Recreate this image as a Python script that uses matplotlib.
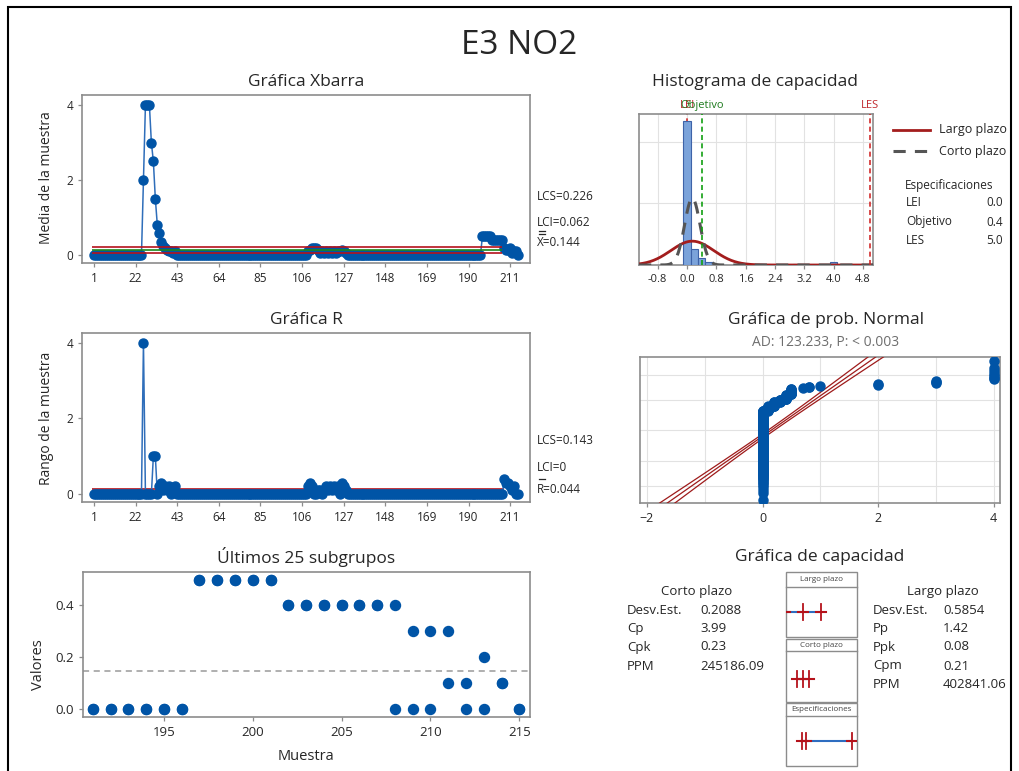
import numpy as np
import matplotlib
matplotlib.use('Agg')
import matplotlib.pyplot as plt
from matplotlib.patches import Rectangle
from matplotlib.lines import Line2D
from statistics import NormalDist

plt.rcParams['font.family'] = ['Open Sans', 'DejaVu Sans']

W, H = 1019, 771

# ---------- DATA ----------
n_subgroups = 215

# subgroups with a non-zero reading; every other subgroup is (0, 0)
nz_subgroups = [26, 27, 28, 29, 30, 31, 32, 33, 34, 35, 36, 37, 38, 39, 40, 41, 42,
                109, 110, 111, 112, 113, 114, 115, 116, 117, 118, 119, 120,
                121, 122, 123, 124, 125, 126, 127, 128,
                197, 198, 199, 200, 201, 202, 203, 204, 205, 206, 207,
                208, 209, 210, 211, 212, 213, 214]
reading_1 = [0, 4, 4, 4, 3, 2, 1, 0.8, 0.7, 0.5, 0.3, 0.3, 0.2, 0.2, 0.1, 0.1, 0.2,
             0.2, 0.3, 0.3, 0.2, 0.2, 0.2, 0.1, 0.1, 0.1, 0.2, 0.1, 0.2,
             0.1, 0.2, 0.1, 0.2, 0.1, 0.3, 0.2, 0.1,
             0.5, 0.5, 0.5, 0.5, 0.5, 0.4, 0.4, 0.4, 0.4, 0.4, 0.4,
             0.4, 0.3, 0.3, 0.3, 0.1, 0.2, 0.1]
reading_2 = [4, 4, 4, 4, 3, 3, 2, 0.8, 0.5, 0.2, 0.2, 0.1, 0.1, 0, 0.1, 0, 0,
             0, 0, 0.1, 0.2, 0.2, 0.1, 0, 0.1, 0, 0, 0, 0,
             0, 0, 0, 0, 0.1, 0, 0, 0,
             0.5, 0.5, 0.5, 0.5, 0.5, 0.4, 0.4, 0.4, 0.4, 0.4, 0.4,
             0, 0, 0, 0.1, 0, 0, 0.1]

xbar_lcs, xbar_center, xbar_lci = 0.226, 0.144, 0.062
r_lcs, r_center, r_lci = 0.143, 0.044, 0.0

# capability histogram (bin centres / counts)
hist_centers = [0.0, 0.2, 0.4, 0.6, 1.0, 2.0, 3.0, 4.0]
hist_counts = [350, 38, 16, 8, 1, 2, 3, 7]
bin_width = 0.2

lei, target, les = 0.0, 0.4, 5.0
sd_short, sd_long = 0.2088, 0.5854
ad_value, p_text = 123.233, '< 0.003'

short_labels = ['Desv.Est.', 'Cp', 'Cpk', 'PPM']
short_values = ['0.2088', '3.99', '0.23', '245186.09']
long_labels = ['Desv.Est.', 'Pp', 'Ppk', 'Cpm', 'PPM']
long_values = ['0.5854', '1.42', '0.08', '0.21', '402841.06']

# ---------- STYLE ----------
PT_BLUE = '#0054A6'
LN_BLUE = '#2F6EBA'
RED = '#B5121B'
GREEN = '#1A8A1A'
DARKRED = '#A31D1D'
SPINE = '#8C8C8C'
TXT = '#262626'
GRID = '#E2E2E2'

fig = plt.figure(figsize=(W / 100, H / 100), dpi=100)


def px_axes(x0, y0, x1, y1):
    return fig.add_axes([x0 / W, 1 - y1 / H, (x1 - x0) / W, (y1 - y0) / H])


def ftext(x, y, s, **kw):
    kw.setdefault('color', TXT)
    kw.setdefault('va', 'center')
    return fig.text(x / W, 1 - y / H, s, **kw)


def style(ax, size):
    for sp in ax.spines.values():
        sp.set_color(SPINE)
        sp.set_linewidth(1.2)
    ax.tick_params(colors=SPINE, labelcolor=TXT, labelsize=size, length=3, width=0.9)


fig.add_artist(Rectangle((7.5 / W, -0.05), (1011 - 7.5) / W, 1.05 - 7.5 / H,
                         transform=fig.transFigure, fill=False, ec='black', lw=1.5))

ftext(519, 45, 'E3 NO2', ha='center', fontsize=24)

# subgroup readings
subs = np.arange(1, n_subgroups + 1)
r1 = np.zeros(n_subgroups)
r2 = np.zeros(n_subgroups)
r1[np.array(nz_subgroups) - 1] = reading_1
r2[np.array(nz_subgroups) - 1] = reading_2
means = (r1 + r2) / 2
ranges = np.abs(r1 - r2)
xticks_sub = [1, 22, 43, 64, 85, 106, 127, 148, 169, 190, 211]

# ---------- Xbar chart ----------
ax = px_axes(82, 95, 530, 263)
ax.plot(subs, means, color=LN_BLUE, lw=1.1, zorder=3)
ax.plot(subs, means, 'o', ms=6.5, color=PT_BLUE, zorder=4)
ax.hlines([xbar_lcs, xbar_lci], 0, 207, color=RED, lw=1.2, zorder=5)
ax.hlines(xbar_center, 0, 207, color=GREEN, lw=1.2, zorder=5)
ax.set_xlim(-5, 221)
ax.set_ylim(-0.21, 4.27)
ax.set_xticks(xticks_sub)
ax.set_yticks([0, 2, 4])
style(ax, 8.5)
ftext(306, 82, 'Gráfica Xbarra', ha='center', fontsize=12.5)
ftext(47, 178, 'Media de la muestra', ha='center', rotation=90, fontsize=10)
ftext(537, 197, f'LCS={xbar_lcs}', fontsize=8.5)
ftext(537, 222, f'LCI={xbar_lci}', fontsize=8.5)
ftext(537, 243, f'X={xbar_center}', fontsize=8.5)
for yy in (230.5, 233.5):
    fig.add_artist(Line2D([538.5 / W, 545 / W], [1 - yy / H] * 2, color=TXT, lw=0.9))

# ---------- R chart ----------
ax = px_axes(82, 333, 530, 502)
ax.plot(subs, ranges, color=LN_BLUE, lw=1.1, zorder=3)
ax.plot(subs, ranges, 'o', ms=6.5, color=PT_BLUE, zorder=4)
ax.hlines([r_lcs, r_lci], 0, 208, color=RED, lw=1.2, zorder=2)
ax.hlines(r_center, 0, 208, color=GREEN, lw=1.2, zorder=2)
ax.set_xlim(-5, 221)
ax.set_ylim(-0.21, 4.26)
ax.set_xticks(xticks_sub)
ax.set_yticks([0, 2, 4])
style(ax, 8.5)
ftext(306, 320, 'Gráfica R', ha='center', fontsize=12.5)
ftext(47, 418, 'Rango de la muestra', ha='center', rotation=90, fontsize=10)
ftext(537, 441, f'LCS={r_lcs}', fontsize=8.5)
ftext(537, 468, f'LCI={r_lci:g}', fontsize=8.5)
ftext(537, 490, f'R={r_center}', fontsize=8.5)
fig.add_artist(Line2D([538.5 / W, 545 / W], [1 - 479 / H] * 2, color=TXT, lw=0.9))

# ---------- last 25 subgroups ----------
ax = px_axes(83, 572, 530, 717)
last = subs[-25:]
ax.plot(last, r1[-25:], 'o', ms=7.2, color=PT_BLUE, zorder=3)
ax.plot(last, r2[-25:], 'o', ms=7.2, color=PT_BLUE, zorder=3)
ax.axhline(xbar_center, color='#9A9A9A', ls=(0, (4, 3)), lw=1.1, zorder=2)
ax.set_xlim(190.45, 215.6)
ax.set_ylim(-0.033, 0.53)
ax.set_xticks([195, 200, 205, 210, 215])
ax.set_yticks([0, 0.2, 0.4])
ax.set_yticklabels(['0.0', '0.2', '0.4'])
style(ax, 9.5)
ftext(306, 557, 'Últimos 25 subgrupos', ha='center', fontsize=12.5)
ftext(38, 665, 'Valores', ha='center', rotation=90, fontsize=10.5)
ftext(306, 757, 'Muestra', ha='center', fontsize=10.5)

# ---------- capability histogram ----------
ax = px_axes(639, 114, 873, 265)
ax.bar(hist_centers, hist_counts, width=bin_width, color='#7BA3DA', ec='#3E63A8',
       lw=0.8, zorder=3)
xs = np.linspace(-1.31, 5.07, 400)
scale = sum(hist_counts) * bin_width
lt = scale * np.array([NormalDist(xbar_center, sd_long).pdf(v) for v in xs])
st = scale * np.array([NormalDist(xbar_center, sd_short).pdf(v) for v in xs])
ax.plot(xs, lt, color=DARKRED, lw=2, zorder=5)
ax.plot(xs, st, color='#555555', lw=2.2, ls=(0, (4, 3)), zorder=5)
ax.axvline(lei, color='#D22B2B', lw=1.2, ls=(0, (3, 2)), zorder=2)
ax.axvline(target, color='#12A012', lw=1.2, ls=(0, (3, 2)), zorder=6)
ax.axvline(les, color='#D22B2B', lw=1.2, ls=(0, (3, 2)), zorder=6)
tr = ax.get_xaxis_transform()
ax.text(lei, 1.02, 'LEI', color='#C0282D', ha='center', va='bottom', fontsize=8, transform=tr)
ax.text(target, 1.02, 'Objetivo', color='#1E7B1E', ha='center', va='bottom', fontsize=8, transform=tr)
ax.text(les, 1.02, 'LES', color='#C0282D', ha='center', va='bottom', fontsize=8, transform=tr)
ax.set_xlim(-1.31, 5.07)
ax.set_ylim(0, 367)
hx = [-0.8, 0.0, 0.8, 1.6, 2.4, 3.2, 4.0, 4.8]
ax.set_xticks(hx)
ax.set_xticklabels([f'{v:.1f}' for v in hx])
ax.set_yticks([150, 300])
ax.set_yticklabels([])
ax.grid(color=GRID, lw=0.8, zorder=0)
style(ax, 8)
ax.tick_params(axis='y', length=0)
ftext(755, 82, 'Histograma de capacidad', ha='center', fontsize=12.5)

fig.add_artist(Line2D([893 / W, 930 / W], [1 - 130 / H] * 2, color=DARKRED, lw=2))
fig.add_artist(Line2D([893 / W, 930 / W], [1 - 151 / H] * 2, color='#555555', lw=2.2,
                      ls=(0, (4, 3))))
ftext(939, 130, 'Largo plazo', fontsize=9)
ftext(939, 151, 'Corto plazo', fontsize=9)
ftext(905, 185, 'Especificaciones', fontsize=8.5)
for yy, lab, val in [(203, 'LEI', lei), (222, 'Objetivo', target), (241, 'LES', les)]:
    ftext(906, yy, lab, fontsize=8.5)
    ftext(1003, yy, f'{val:.1f}', ha='right', fontsize=8.5)

# ---------- normal probability plot ----------
ax = px_axes(640, 357, 1000, 503)
vals = np.sort(np.concatenate([r1, r2]))
n = len(vals)
nd = NormalDist()
zs = np.array([nd.inv_cdf((i - 0.3) / (n + 0.4)) for i in range(1, n + 1)])
ax.plot(vals, zs, 'o', ms=6.5, color=PT_BLUE, zorder=4)
zl = np.linspace(-3.4, 3.4, 50)
fit = xbar_center + zl * sd_long
se = sd_long * np.sqrt(1 / n + zl ** 2 / (2 * n))
for xl in (fit, fit - 1.96 * se, fit + 1.96 * se):
    ax.plot(xl, zl, color='#9E1B1B', lw=0.9, zorder=3)
ax.set_xlim(-2.12, 4.11)
ax.set_ylim(-3.06, 3.1)
ax.set_xticks([-2, 0, 2, 4])
ax.set_xticks([-1, 1, 3], minor=True)
ax.set_yticks([nd.inv_cdf(p) for p in (0.01, 0.1, 0.5, 0.9, 0.99)])
ax.set_yticklabels([])
ax.grid(which='both', color=GRID, lw=0.8, zorder=0)
style(ax, 9)
ax.tick_params(axis='y', length=0)
ax.tick_params(axis='x', which='minor', length=0)
ftext(826, 320, 'Gráfica de prob. Normal', ha='center', fontsize=12.5)
ftext(826, 342, f'AD: {ad_value}, P: {p_text}', ha='center', fontsize=10, color='#6E6E6E')

# ---------- capability plot ----------
ftext(820, 557, 'Gráfica de capacidad', ha='center', fontsize=12.5)
ftext(697, 591, 'Corto plazo', ha='center', fontsize=9.5)
ftext(943, 591, 'Largo plazo', ha='center', fontsize=9.5)
row_y = [610, 628.5, 647, 666, 684.5]
for yy, lab, val in zip(row_y, short_labels, short_values):
    ftext(627, yy, lab, fontsize=9.5)
    ftext(700, yy, val, fontsize=9.5)
for yy, lab, val in zip(row_y, long_labels, long_values):
    ftext(873, yy, lab, fontsize=9.5)
    ftext(943, yy, val, fontsize=9.5)

ax = px_axes(785.7, 572.3, 856.7, 766)
ax.set_xlim(-1.58, 5.45)
ax.set_ylim(766, 572.3)
ax.axis('off')
yt = ax.get_yaxis_transform()
boxes = [(572.3, 637.3, 586.7, 'Largo plazo'),
         (639.0, 701.7, 651.0, 'Corto plazo'),
         (703.3, 766.0, 715.7, 'Especificaciones')]
for top, bot, hline, lab in boxes:
    ax.add_patch(Rectangle((0, top), 1, bot - top, transform=yt, fill=False,
                           ec='#8C8C8C', lw=1, clip_on=False))
    ax.plot([0, 1], [hline, hline], color='#8C8C8C', lw=1, transform=yt, clip_on=False)
    ax.text(0.5, (top + hline) / 2 + 0.5, lab, transform=yt, ha='center', va='center',
            fontsize=5.8, color='#444444')

intervals = [(611.7, [xbar_center - 3 * sd_long, xbar_center, xbar_center + 3 * sd_long]),
             (679.3, [xbar_center - 3 * sd_short, xbar_center, xbar_center + 3 * sd_short]),
             (741.0, [lei, target, les])]
for yy, marks in intervals:
    ax.plot([marks[0], marks[-1]], [yy, yy], color='#2E6DC0', lw=1.5, zorder=2)
    for m in marks:
        ax.plot([m - 0.5, m + 0.5], [yy, yy], color=RED, lw=1.5, zorder=3)
        ax.plot([m, m], [yy - 8, yy + 8], color=RED, lw=1.3, zorder=3)

fig.savefig('out.png', dpi=100)
